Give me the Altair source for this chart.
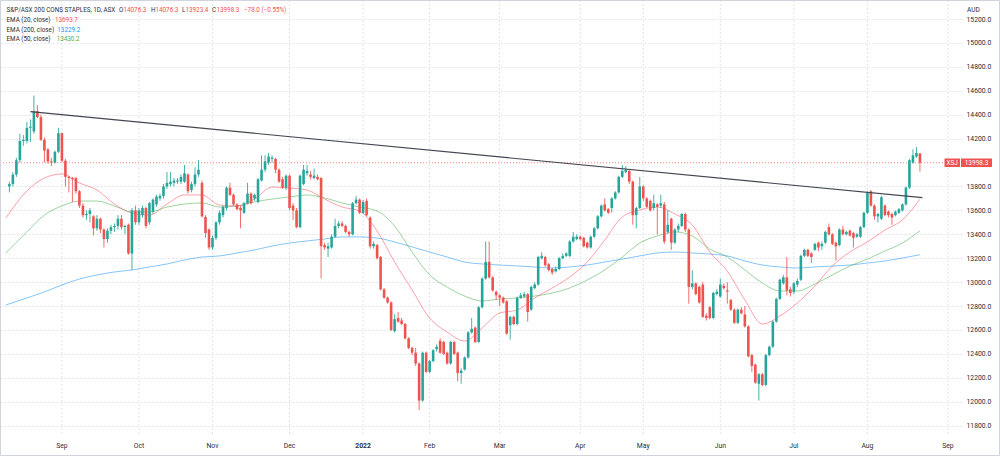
import altair as alt
import pandas as pd

# ---------------- data ----------------
first_idx = -15  # trading-day index, 0 = 1 Sep 2021

opens = [
    13800, 13820, 13900, 14020, 14180, 14180, 14290, 14260, 14430, 14380,
    14190, 14110, 14010, 14000, 14090, 14245, 14015, 13880, 13870, 13870,
    13760, 13640, 13560, 13570, 13550, 13450, 13530, 13440, 13360, 13430,
    13460, 13470, 13530, 13460, 13480, 13240, 13600, 13500, 13560, 13620,
    13500, 13590, 13650, 13700, 13720, 13800, 13820, 13830, 13840, 13840,
    13840, 13900, 13770, 13820, 13900, 13830, 13545, 13440, 13290, 13370,
    13500, 13560, 13620, 13790, 13730, 13650, 13620, 13580, 13660, 13740,
    13700, 13670, 13850, 13940, 14000, 14030, 14030, 13940, 13860, 13790,
    13890, 13640, 13600, 13460, 13820, 13910, 13900, 13870, 13880, 13870,
    13310, 13280, 13290, 13380, 13470, 13490, 13470, 13420, 13400, 13660,
    13690, 13580, 13680, 13540, 13300, 13310, 13210, 12940, 12870, 12830,
    12590, 12700, 12680, 12650, 12530, 12450, 12410, 12320, 12010, 12410,
    12250, 12340, 12440, 12510, 12500, 12410, 12320, 12500, 12410, 12240,
    12270, 12370, 12580, 12620, 12500, 12790, 13030, 13170, 13040, 12920,
    12890, 12870, 12840, 12640, 12710, 12650, 12870, 12880, 12900, 12770,
    12950, 12980, 13200, 13210, 13150, 13110, 13090, 13110, 13200, 13220,
    13220, 13340, 13360, 13380, 13370, 13330, 13290, 13380, 13450, 13550,
    13650, 13610, 13620, 13700, 13750, 13880, 13920, 13930, 13840, 13560,
    13620, 13800, 13700, 13680, 13620, 13650, 13640, 13650, 13420, 13530,
    13330, 13440, 13470, 13570, 13440, 12960, 12990, 12960, 12980, 12720,
    12790, 12700, 12900, 12880, 12970, 12930, 12850, 12770, 12660, 12770,
    12730, 12630, 12390, 12310, 12150, 12230, 12140, 12390, 12460, 12670,
    12860, 12990, 13040, 12940, 12920, 12980, 13020, 13220, 13270, 13240,
    13270, 13330, 13300, 13330, 13460, 13400, 13330, 13310, 13440, 13400,
    13430, 13410, 13380, 13380, 13460, 13580, 13760, 13640, 13550, 13530,
    13640, 13590, 13570, 13560, 13580, 13600, 13650, 13790, 14000, 14050, 14076.3,
]
highs = [
    13840, 13920, 14040, 14240, 14230, 14340, 14360, 14560, 14480, 14400,
    14210, 14120, 14040, 14100, 14290, 14250, 14030, 13890, 13880, 13880,
    13770, 13660, 13600, 13620, 13560, 13560, 13540, 13450, 13450, 13480,
    13490, 13560, 13560, 13480, 13490, 13620, 13640, 13620, 13640, 13630,
    13670, 13700, 13730, 13740, 13820, 13920, 13920, 13870, 13870, 13900,
    13980, 13910, 13840, 13960, 14020, 13850, 13560, 13450, 13390, 13510,
    13600, 13640, 13800, 13830, 13740, 13660, 13640, 13670, 13830, 13750,
    13740, 13870, 14060, 14060, 14080, 14060, 14040, 13950, 13880, 13900,
    13900, 13660, 13620, 13900, 13980, 13980, 13930, 13950, 13900, 13880,
    13330, 13330, 13400, 13530, 13510, 13510, 13480, 13430, 13670, 13720,
    13700, 13690, 13700, 13550, 13340, 13320, 13220, 12950, 12880, 12840,
    12730, 12750, 12700, 12660, 12540, 12460, 12450, 12330, 12420, 12420,
    12350, 12440, 12480, 12530, 12510, 12420, 12510, 12510, 12420, 12280,
    12380, 12590, 12700, 12630, 12800, 13040, 13340, 13340, 13050, 12930,
    12900, 12880, 12850, 12720, 12720, 12880, 12910, 12920, 12910, 12970,
    13000, 13220, 13250, 13220, 13160, 13120, 13130, 13210, 13240, 13250,
    13350, 13420, 13400, 13390, 13380, 13340, 13390, 13460, 13560, 13650,
    13700, 13620, 13710, 13760, 13890, 13980, 13970, 13940, 13850, 13630,
    13880, 13810, 13710, 13690, 13730, 13660, 13730, 13670, 13600, 13540,
    13450, 13490, 13580, 13580, 13450, 13100, 13000, 12970, 13000, 12740,
    12800, 12920, 12940, 13030, 12990, 13000, 12860, 12780, 12780, 12790,
    12800, 12640, 12400, 12320, 12240, 12240, 12400, 12470, 12680, 12870,
    13030, 13060, 13210, 12960, 13000, 13030, 13230, 13280, 13280, 13250,
    13330, 13340, 13340, 13430, 13490, 13410, 13340, 13450, 13470, 13430,
    13440, 13420, 13410, 13470, 13590, 13760, 13770, 13650, 13580, 13720,
    13650, 13600, 13580, 13600, 13620, 13660, 13800, 14030, 14110, 14130, 14076.3,
]
lows = [
    13750, 13800, 13880, 14000, 14140, 14160, 14170, 14240, 14370, 14180,
    14000, 13990, 13970, 13990, 14080, 14000, 13800, 13750, 13670, 13740,
    13620, 13540, 13520, 13500, 13390, 13430, 13410, 13290, 13330, 13400,
    13420, 13440, 13440, 13400, 13230, 13100, 13480, 13480, 13540, 13450,
    13480, 13570, 13630, 13680, 13700, 13780, 13800, 13800, 13820, 13820,
    13830, 13740, 13750, 13800, 13880, 13540, 13370, 13270, 13270, 13350,
    13480, 13540, 13600, 13720, 13640, 13600, 13450, 13570, 13650, 13650,
    13680, 13660, 13840, 13920, 13980, 14000, 13910, 13830, 13780, 13770,
    13600, 13520, 13450, 13450, 13810, 13890, 13860, 13860, 13850, 13030,
    13270, 13210, 13280, 13370, 13450, 13460, 13410, 13380, 13390, 13650,
    13570, 13570, 13550, 13280, 13280, 13190, 12930, 12860, 12820, 12590,
    12580, 12660, 12640, 12520, 12440, 12390, 12300, 11930, 12000, 12240,
    12240, 12330, 12420, 12400, 12390, 12310, 12310, 12390, 12170, 12150,
    12260, 12360, 12570, 12490, 12490, 12780, 13020, 13030, 12920, 12850,
    12800, 12820, 12560, 12520, 12640, 12640, 12860, 12870, 12670, 12760,
    12940, 12970, 13190, 13130, 13090, 13060, 13080, 13100, 13190, 13210,
    13210, 13330, 13350, 13350, 13290, 13280, 13280, 13370, 13440, 13540,
    13590, 13570, 13580, 13690, 13740, 13870, 13910, 13820, 13480, 13450,
    13610, 13680, 13620, 13590, 13600, 13400, 13620, 13320, 13400, 13270,
    13320, 13420, 13460, 13420, 12820, 12940, 12890, 12820, 12700, 12680,
    12690, 12690, 12890, 12870, 12940, 12820, 12760, 12650, 12650, 12730,
    12620, 12370, 12250, 12150, 12010, 12130, 12130, 12380, 12450, 12660,
    12850, 12980, 12890, 12880, 12900, 12960, 13010, 13210, 13210, 13160,
    13260, 13260, 13270, 13320, 13390, 13310, 13180, 13300, 13390, 13390,
    13380, 13290, 13370, 13370, 13450, 13570, 13630, 13520, 13500, 13520,
    13550, 13540, 13480, 13550, 13570, 13590, 13640, 13780, 13990, 14040, 13923.4,
]
closes = [
    13820, 13900, 14020, 14180, 14190, 14290, 14300, 14430, 14380, 14190,
    14100, 14010, 14000, 14090, 14245, 14015, 13880, 13870, 13860, 13760,
    13640, 13560, 13570, 13600, 13450, 13530, 13440, 13360, 13430, 13460,
    13470, 13530, 13460, 13470, 13240, 13600, 13500, 13600, 13620, 13470,
    13660, 13690, 13715, 13720, 13800, 13830, 13840, 13850, 13850, 13880,
    13910, 13760, 13820, 13900, 13940, 13550, 13410, 13290, 13370, 13500,
    13580, 13630, 13790, 13730, 13650, 13610, 13600, 13660, 13740, 13660,
    13730, 13860, 13940, 14010, 14050, 14040, 13940, 13840, 13790, 13890,
    13620, 13600, 13460, 13890, 13940, 13930, 13880, 13890, 13860, 13300,
    13290, 13300, 13380, 13470, 13490, 13470, 13420, 13400, 13660, 13690,
    13580, 13670, 13560, 13300, 13320, 13200, 12940, 12870, 12830, 12600,
    12690, 12670, 12650, 12530, 12450, 12410, 12320, 12010, 12410, 12250,
    12340, 12430, 12460, 12410, 12400, 12320, 12500, 12400, 12240, 12260,
    12370, 12580, 12610, 12500, 12790, 13030, 13170, 13040, 12930, 12890,
    12870, 12830, 12570, 12710, 12650, 12870, 12890, 12900, 12750, 12960,
    12980, 13210, 13220, 13140, 13100, 13080, 13110, 13200, 13220, 13240,
    13340, 13380, 13380, 13360, 13300, 13290, 13380, 13450, 13550, 13640,
    13600, 13580, 13700, 13750, 13880, 13930, 13940, 13840, 13560, 13620,
    13800, 13700, 13630, 13600, 13660, 13630, 13660, 13340, 13480, 13330,
    13440, 13470, 13570, 13440, 12960, 12990, 12900, 12830, 12710, 12700,
    12700, 12910, 12920, 12980, 12950, 12920, 12770, 12660, 12770, 12740,
    12630, 12380, 12300, 12160, 12230, 12140, 12390, 12460, 12670, 12860,
    13020, 13040, 12930, 12910, 12990, 13010, 13220, 13270, 13220, 13210,
    13320, 13290, 13320, 13420, 13400, 13320, 13300, 13440, 13400, 13420,
    13390, 13370, 13400, 13460, 13580, 13750, 13640, 13550, 13570, 13710,
    13560, 13560, 13540, 13590, 13610, 13650, 13790, 14020, 14060, 14080, 13998.3,
]

# EMA readings (sampled trading-day indices)
ema_idx = [-16, -10, -5, 0, 5, 10, 15, 20, 25, 30, 35, 40, 45, 50, 55, 60, 65, 70,
           75, 80, 85, 90, 95, 100, 105, 110, 115, 120, 125, 130, 135, 140, 145,
           150, 155, 160, 165, 170, 175, 180, 185, 190, 195, 200, 205, 210, 215,
           220, 225, 230, 235, 240, 245]
ema20 = [13536, 13762, 13871, 13904, 13829, 13770, 13653, 13578, 13561, 13653,
         13729, 13729, 13645, 13637, 13695, 13795, 13787, 13770, 13695, 13628,
         13595, 13428, 13168, 12934, 12700, 12583, 12508, 12617, 12742, 12767,
         12868, 12951, 13043, 13168, 13352, 13545, 13603, 13628, 13570, 13478,
         13252, 13093, 12851, 12650, 12717, 12826, 12968, 13135, 13252, 13336,
         13436, 13520, 13693.7]
ema50 = [13244, 13420, 13561, 13637, 13678, 13678, 13637, 13587, 13587, 13628,
         13653, 13662, 13628, 13637, 13670, 13695, 13712, 13729, 13704, 13662,
         13628, 13595, 13469, 13252, 13060, 12959, 12884, 12842, 12859, 12868,
         12884, 12909, 12951, 13018, 13102, 13210, 13327, 13386, 13420, 13386,
         13277, 13210, 13102, 12993, 12926, 12926, 12984, 13060, 13135, 13193,
         13260, 13327, 13430.2]
ema200 = [12809, 12868, 12918, 12976, 13026, 13060, 13085, 13102, 13127, 13152,
          13185, 13210, 13219, 13244, 13269, 13302, 13327, 13344, 13361, 13378,
          13378, 13369, 13336, 13294, 13252, 13210, 13168, 13152, 13143, 13135,
          13127, 13118, 13127, 13143, 13168, 13193, 13219, 13244, 13252, 13244,
          13235, 13219, 13177, 13143, 13127, 13118, 13127, 13135, 13143, 13160,
          13177, 13202, 13229.2]

trend_idx = [-9, 245.7]
trend_val = [14425, 13706]

month_labels = ["Sep", "Oct", "Nov", "Dec", "2022", "Feb", "Mar", "Apr",
                "May", "Jun", "Jul", "Aug", "Sep"]
month_idx = [0, 22, 43, 65, 86, 105, 125, 148, 166, 188, 209, 230, 253]

# 14000.0 is hidden behind the last-price label in the reference
y_ticks = [11800, 12000, 12200, 12400, 12600, 12800, 13000, 13200, 13400,
           13600, 13800, 14200, 14400, 14600, 14800, 15000, 15200]

# ---------------- styling ----------------
UP = "#26a69a"
DOWN = "#ef5350"
TXT = "#2a2e39"
GRID = "#e0e3eb"
FONT = "Roboto"
LEG = 6.3
W, H = 962, 434

xs = alt.Scale(domain=[-16.25, 255.58], nice=False, zero=False)
ys = alt.Scale(domain=[11730.4, 15358.85], nice=False, zero=False)
yaxis = alt.Axis(orient="right", values=y_ticks, format=".1f", grid=True,
                 gridColor=GRID, gridDash=[2, 2], gridWidth=1, ticks=False,
                 domain=False, labelFont=FONT, labelFontSize=6.8,
                 labelColor=TXT, labelPadding=4, title=None)

n = len(opens)
idx = list(range(first_idx, first_idx + n))
candles = pd.DataFrame({"idx": idx, "open": opens, "high": highs,
                        "low": lows, "close": closes})
candles["dir"] = ["up" if c >= o else "down" for o, c in zip(opens, closes)]
color = alt.Color("dir:N", scale=alt.Scale(domain=["up", "down"], range=[UP, DOWN]),
                  legend=None)

months = pd.DataFrame({"idx": month_idx, "label": month_labels})
months["bold"] = [lbl == "2022" for lbl in month_labels]

X = alt.X("idx:Q", scale=xs, axis=None)

vgrid = alt.Chart(months).mark_rule(color=GRID, strokeDash=[2, 2], strokeWidth=1).encode(
    x=X, y=alt.value(0), y2=alt.value(H))

price_line = alt.Chart(pd.DataFrame({"p": [closes[-1]]})).mark_rule(
    color=DOWN, strokeDash=[1, 2], strokeWidth=1, opacity=0.7).encode(
    y=alt.Y("p:Q", scale=ys, axis=yaxis), x=alt.value(0), x2=alt.value(945))

def ema_layer(vals, col):
    df = pd.DataFrame({"idx": ema_idx, "v": vals})
    return alt.Chart(df).mark_line(color=col, strokeWidth=1, opacity=0.55,
                                   interpolate="monotone").encode(
        x=X, y=alt.Y("v:Q", scale=ys, axis=yaxis))

e200 = ema_layer(ema200, "#2196f3")
e50 = ema_layer(ema50, "#4caf50")
e20 = ema_layer(ema20, "#f7525f")

wicks = alt.Chart(candles).mark_rule(strokeWidth=1, opacity=0.85).encode(
    x=X, y=alt.Y("low:Q", scale=ys, axis=yaxis), y2="high:Q", color=color)
bodies = alt.Chart(candles).mark_bar(size=2.6).encode(
    x=X, y=alt.Y("open:Q", scale=ys, axis=yaxis), y2="close:Q", color=color)

trend = alt.Chart(pd.DataFrame({"idx": trend_idx, "v": trend_val})).mark_line(
    color="#434651", strokeWidth=1.2).encode(x=X, y=alt.Y("v:Q", scale=ys, axis=yaxis))

mlabels = alt.Chart(months).transform_filter("!datum.bold").mark_text(
    font=FONT, fontSize=6.8, color=TXT, baseline="middle", align="center").encode(
    x=X, y=alt.value(446), text="label:N")
mlabels_b = alt.Chart(months).transform_filter("datum.bold").mark_text(
    font=FONT, fontSize=6.8, color=TXT, fontWeight="bold", baseline="middle",
    align="center").encode(x=X, y=alt.value(446), text="label:N")

one = pd.DataFrame({"a": [0]})

def txt(s, x, y, col, align="left", weight="normal", size=LEG):
    return alt.Chart(one).mark_text(text=s, font=FONT, fontSize=size, color=col,
                                    align=align, baseline="middle",
                                    fontWeight=weight).encode(
        x=alt.value(x), y=alt.value(y))

def box(x1, x2, y1, y2, col):
    return alt.Chart(one).mark_rect(color=col).encode(
        x=alt.value(x1), x2=alt.value(x2), y=alt.value(y1), y2=alt.value(y2))

last = closes[-1]
legend = [
    txt("S&P/ASX 200 CONS STAPLES, 1D, ASX", 6.5, 10, TXT),
    txt("O", 119, 10, TXT), txt(f"{opens[-1]:.1f}", 123.5, 10, DOWN),
    txt("H", 151, 10, TXT), txt(f"{highs[-1]:.1f}", 155.5, 10, DOWN),
    txt("L", 182, 10, TXT), txt(f"{lows[-1]:.1f}", 185.5, 10, DOWN),
    txt("C", 212, 10, TXT), txt(f"{last:.1f}", 216.5, 10, DOWN),
    txt("\u221278.0 (\u22120.55%)", 244, 10, DOWN),
    txt("EMA (20, close)", 6.5, 20, TXT), txt(f"{ema20[-1]:.1f}", 55, 20, "#f7525f"),
    txt("EMA (200, close)", 6.5, 29.5, TXT), txt(f"{ema200[-1]:.1f}", 57.3, 29.5, "#2196f3"),
    txt("EMA (50, close)", 6.5, 38.5, TXT), txt(f"{ema50[-1]:.1f}", 56.7, 38.5, "#4caf50"),
    txt("AUD", 967, 9.5, TXT, size=6.5),
    box(944.5, 960, 158.5, 167, DOWN), box(961, 992, 158.5, 167, DOWN),
    txt("XSJ", 952.2, 162.8, "white", align="center", size=6.3),
    txt(f"{last:.1f}", 976.5, 162.8, "white", align="center", size=6.5),
]

frame = alt.Chart(one).mark_rect(fillOpacity=0, stroke="#d1d4dc", strokeWidth=1).encode(
    x=alt.value(0.5), x2=alt.value(999.5), y=alt.value(0.5), y2=alt.value(455.5))

chart = alt.layer(
    vgrid, price_line, e200, e50, e20, wicks, bodies, trend,
    mlabels, mlabels_b, *legend, frame
).properties(
    width=W, height=H,
    autosize=alt.AutoSizeParams(type="none"),
    padding={"left": 0, "top": 0, "right": 38, "bottom": 22},
    background="white",
).configure_view(stroke=None)

chart.save("out.html", embed_options={"renderer": "svg", "actions": False})
